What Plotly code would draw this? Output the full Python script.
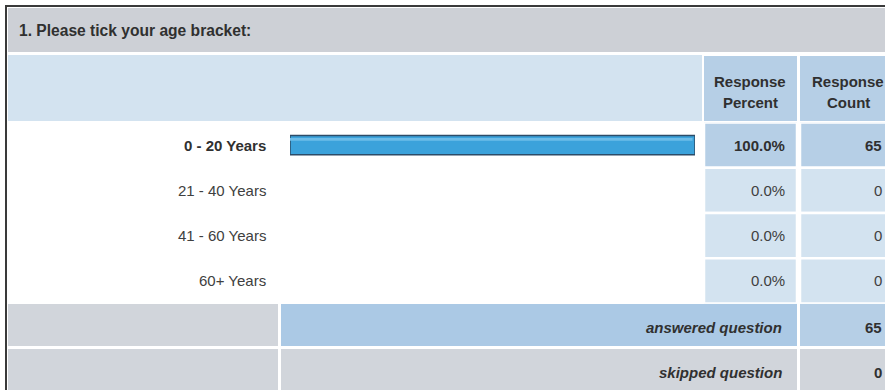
import plotly.graph_objects as go

# Survey question and results
question = "1. Please tick your age bracket:"
age_brackets = ["0 - 20 Years", "21 - 40 Years", "41 - 60 Years", "60+ Years"]
response_percent = [100.0, 0.0, 0.0, 0.0]
response_count = [65, 0, 0, 0]
answered_question = 65
skipped_question = 0
header_percent = ["Response", "Percent"]
header_count = ["Response", "Count"]

W, H = 885, 390
FONT = "Liberation Sans, Arial, Helvetica, sans-serif"
TXT = "#303030"

GRAY = "#d1d5db"
GRAY_TITLE = "#cdd0d6"
LIGHT_BLUE = "#d3e3f0"
MID_BLUE = "#b6cfe6"
ANS_BLUE = "#abc9e5"


def px_x(x):
    return x / W


def px_y(y):
    return 1 - y / H


def rect(x0, y0, x1, y1, color, line=None):
    return dict(type="rect", xref="paper", yref="paper",
                x0=px_x(x0), x1=px_x(x1), y0=px_y(y1), y1=px_y(y0),
                fillcolor=color, line=line or dict(width=0), layer="below")


fig = go.Figure()

# Percentage bars (outline only where there is a value)
fig.add_trace(go.Bar(
    x=response_percent, y=age_brackets, orientation="h", width=0.42,
    marker=dict(color="#3ba2db",
                line=dict(color="#2c4c68", width=[1.5 if v > 0 else 0 for v in response_percent])),
    hoverinfo="skip", showlegend=False,
))
# light sheen along the top of each bar
fig.add_trace(go.Bar(
    x=[v * 0.994 for v in response_percent], y=age_brackets, orientation="h",
    width=0.06, offset=-0.155,
    marker=dict(color="#6dbce8", line=dict(width=0)),
    hoverinfo="skip", showlegend=False,
))

shapes = []
# frame
shapes.append(rect(6, 6, W + 10, H + 10, "#ffffff", dict(color="#3a3a3a", width=2)))
# title band
shapes.append(rect(8, 8, W + 5, 52, GRAY_TITLE))
# header band
shapes.append(rect(8, 55, 702, 121, LIGHT_BLUE))
shapes.append(rect(704, 56, 797, 121, MID_BLUE))
shapes.append(rect(800, 56, W + 10, 121, MID_BLUE))

top = max(response_count)
for i, cat in enumerate(age_brackets):
    c = MID_BLUE if response_count[i] == top and top > 0 else LIGHT_BLUE
    for x0, x1 in ((704, 797), (800, W + 10)):
        shapes.append(dict(type="rect", xref="paper", yref="y",
                           x0=px_x(x0), x1=px_x(x1), y0=i - 0.5, y1=i + 0.5,
                           fillcolor=c, line=dict(color="#ffffff", width=2.5),
                           layer="below"))

# summary rows
shapes.append(rect(8, 304, 278, 346, GRAY))
shapes.append(rect(281, 304, 797, 346, ANS_BLUE))
shapes.append(rect(800, 304, W + 10, 346, MID_BLUE))
shapes.append(rect(8, 349, 278, H + 10, GRAY))
shapes.append(rect(281, 349, 797, H + 10, GRAY))
shapes.append(rect(800, 349, W + 10, H + 10, GRAY))

ann = []


def text(x, y, s, anchor="right", yref="paper", bold=False, italic=False, color=TXT, size=15):
    if bold:
        s = f"<b>{s}</b>"
    if italic:
        s = f"<i>{s}</i>"
    ann.append(dict(x=px_x(x), y=(px_y(y) if yref == "paper" else y), xref="paper", yref=yref,
                    text=s, showarrow=False, xanchor=anchor, yanchor="middle",
                    font=dict(family=FONT, size=size, color=color)))


text(17, 31, question, anchor="left", bold=True, size=15.6)
text(750, 81, header_percent[0], anchor="center", bold=True)
text(750, 103, header_percent[1], anchor="center", bold=True)
text(848, 81, header_count[0], anchor="center", bold=True)
text(848, 103, header_count[1], anchor="center", bold=True)

for i, cat in enumerate(age_brackets):
    is_top = response_count[i] == top and top > 0
    col = TXT if is_top else "#404040"
    text(268, cat, cat, yref="y", bold=is_top, color=col)
    text(787, cat, f"{response_percent[i]:.1f}%", yref="y", bold=is_top, color=col)
    text(884, cat, str(response_count[i]), yref="y", bold=is_top, color=col)

text(784, 327, "answered question", bold=True, italic=True)
text(884, 327, str(answered_question), bold=True)
text(784, 372, "skipped question", bold=True, italic=True)
text(884, 372, str(skipped_question), bold=True)

fig.update_layout(
    width=W, height=H, margin=dict(l=0, r=0, t=0, b=0),
    paper_bgcolor="#ffffff", plot_bgcolor="rgba(0,0,0,0)",
    barmode="overlay", shapes=shapes, annotations=ann, showlegend=False,
    xaxis=dict(domain=[px_x(290), px_x(695)], range=[0, 100], visible=False, fixedrange=True),
    yaxis=dict(domain=[px_y(303.5), px_y(122.5)], type="category",
               categoryarray=age_brackets, range=[3.5, -0.5], visible=False, fixedrange=True),
)

fig.write_html("out.html")
